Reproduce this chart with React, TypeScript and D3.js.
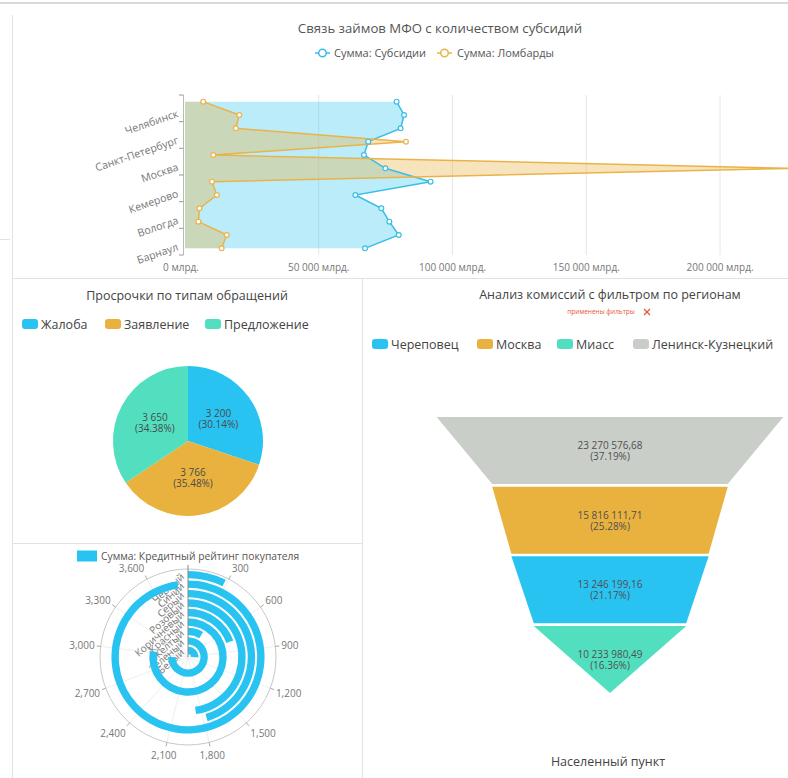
import React from "react";
import * as d3 from "d3";

const FONT = "'Open Sans', 'Noto Sans', sans-serif";

// ---------- Top chart: Связь займов МФО с количеством субсидий ----------
const cities = ["Челябинск", "Санкт-Петербург", "Москва", "Кемерово", "Вологда", "Барнаул"];
const pointKeys = cities.flatMap((c) => [c + " 1", c + " 2"]);
const subsidies = [79100, 81900, 80600, 68500, 66900, 74900, 91800, 63700, 73400, 76400, 79900, 67300];
const lombards = [6800, 20300, 19000, 82600, 10600, 226500, 10100, 11900, 5400, 5000, 15600, 13700];
const xTicks = [0, 50000, 100000, 150000, 200000];

// ---------- Pie ----------
const pieLabels = ["Жалоба", "Заявление", "Предложение"];
const pieValues = [3200, 3766, 3650];

// ---------- Funnel ----------
const funnelLabels = ["Ленинск-Кузнецкий", "Москва", "Череповец", "Миасс"];
const funnelValues = [23270576.68, 15816111.71, 13246199.16, 10233980.49];
const funnelLegendOrder = ["Череповец", "Москва", "Миасс", "Ленинск-Кузнецкий"];

// ---------- Polar ----------
const polarCats = ["Белый", "Зеленый", "Желтый", "Красный", "Коричневый", "Розовый", "Серый", "Синий", "Черный"];
const polarValues = [1000, 2925, 336, 3023, 758, 1863, 1766, 3813, 282];
const polarTicks = [300, 600, 900, 1200, 1500, 1800, 2100, 2400, 2700, 3000, 3300, 3600];

const C_BLUE = "#29c3f1";
const C_ORANGE = "#e9b23f";
const C_TEAL = "#52dfbf";
const C_GRAY = "#c9cec9";

const ru = d3.formatLocale({ decimal: ",", thousands: " ", grouping: [3], currency: ["", ""] });
const fmtInt = ru.format(",d");
const fmt2 = ru.format(",.2f");
const fmtEn = d3.format(",");

function pctLargestRemainder(vals: number[]): number[] {
  const tot = d3.sum(vals);
  const raw = vals.map((v) => (v / tot) * 10000);
  const fl = raw.map(Math.floor);
  const rest = 10000 - d3.sum(fl);
  const order = raw.map((r, i) => [r - Math.floor(r), i]).sort((a, b) => b[0] - a[0]);
  for (let k = 0; k < rest; k++) fl[order[k][1]] += 1;
  return fl.map((v) => v / 100);
}

function TopChart() {
  const x = d3.scaleLinear().domain([0, 50000]).range([185, 318.75]);
  const y = d3.scalePoint<string>().domain(pointKeys).range([95, 255]).padding(0.5);
  const band = d3.scaleBand<string>().domain(cities).range([95, 255]);
  const lineS = d3.line<number>().x((d) => x(d)).y((_, i) => y(pointKeys[i])!);
  const areaS = d3.area<number>().x0(x(0)).x1((d) => x(d)).y((_, i) => y(pointKeys[i])!);
  return (
    <g>
      <text x={440} y={33} textAnchor="middle" fontSize={13.2} fill="#555">Связь займов МФО с количеством субсидий</text>
      {/* legend */}
      <g fontSize={11} fill="#555">
        <line x1={315} x2={330} y1={53} y2={53} stroke="#3bbde6" strokeWidth={1.5} />
        <circle cx={322.5} cy={53} r={3.8} fill="#fff" stroke="#3bbde6" strokeWidth={1.5} />
        <text x={334} y={57}>Сумма: Субсидии</text>
        <line x1={437} x2={452} y1={53} y2={53} stroke="#eab34a" strokeWidth={1.5} />
        <circle cx={444.5} cy={53} r={3.8} fill="#fff" stroke="#eab34a" strokeWidth={1.5} />
        <text x={457} y={57}>Сумма: Ломбарды</text>
      </g>
      {/* grid */}
      {xTicks.slice(1).map((t) => (
        <line key={t} x1={x(t)} x2={x(t)} y1={95} y2={255} stroke="#e6e6e6" strokeWidth={1} />
      ))}
      <path d={areaS(subsidies) || ""} fill="#2ac3f1" fillOpacity={0.32} />
      <path d={areaS(lombards) || ""} fill="#eab340" fillOpacity={0.35} />
      <path d={lineS(subsidies) || ""} fill="none" stroke="#3bbde6" strokeWidth={1.5} />
      <path d={lineS(lombards) || ""} fill="none" stroke="#eab34a" strokeWidth={1.5} />
      {subsidies.map((v, i) => (
        <circle key={"s" + i} cx={x(v)} cy={y(pointKeys[i])} r={2.4} fill="#fff" stroke="#3bbde6" strokeWidth={1.2} />
      ))}
      {lombards.map((v, i) => (
        <circle key={"l" + i} cx={x(v)} cy={y(pointKeys[i])} r={2.4} fill="#fff" stroke="#eab34a" strokeWidth={1.2} />
      ))}
      {/* y axis */}
      <line x1={183.5} x2={183.5} y1={95} y2={255} stroke="#bbb" />
      {[...cities.map((c) => band(c)!), 255].map((yy, i) => (
        <line key={i} x1={179} x2={183.5} y1={yy} y2={yy} stroke="#999" />
      ))}
      {cities.map((c) => {
        const yy = band(c)! + band.bandwidth() - 5;
        return (
          <text key={c} x={179} y={yy} textAnchor="end" fontSize={10.6} fill="#777" transform={`rotate(-19 179 ${yy})`}>{c}</text>
        );
      })}
      {xTicks.map((t) => (
        <text key={t} x={t === 0 ? x(t) - 4 : x(t)} y={271} textAnchor="middle" fontSize={10} fill="#777">{fmtInt(t)} млрд.</text>
      ))}
    </g>
  );
}

function PieChart() {
  const cx = 188, cy = 441, R = 75;
  const colors = [C_BLUE, C_ORANGE, C_TEAL];
  const arcs = d3.pie<number>().sort(null)(pieValues);
  const arcG = d3.arc<d3.PieArcDatum<number>>().innerRadius(0).outerRadius(R);
  const pcts = pctLargestRemainder(pieValues);
  const legendX = [22, 105, 205];
  return (
    <g>
      <text x={187} y={300} textAnchor="middle" fontSize={12.5} fill="#444">Просрочки по типам обращений</text>
      {pieLabels.map((l, i) => (
        <g key={l}>
          <rect x={legendX[i]} y={319} width={16} height={10} rx={3} fill={colors[i]} />
          <text x={legendX[i] + 19} y={329} fontSize={12.5} fill="#444">{l}</text>
        </g>
      ))}
      <g transform={`translate(${cx},${cy})`}>
        {arcs.map((a, i) => (
          <path key={i} d={arcG(a) || ""} fill={colors[i]} />
        ))}
        {arcs.map((a, i) => {
          const [lx, ly] = arcG.centroid(a);
          return (
            <text key={"t" + i} x={lx} y={ly} textAnchor="middle" fontSize={10} fill="#4a4a4a">
              <tspan x={lx} dy={-2.5}>{fmtInt(a.data)}</tspan>
              <tspan x={lx} dy={11}>({pcts[i].toFixed(2)}%)</tspan>
            </text>
          );
        })}
      </g>
    </g>
  );
}

function FunnelChart() {
  const cx = 610;
  const colorMap: Record<string, string> = {
    "Череповец": C_BLUE,
    "Москва": C_ORANGE,
    "Миасс": C_TEAL,
    "Ленинск-Кузнецкий": C_GRAY,
  };
  const w = d3.scaleLinear().domain([0, d3.max(funnelValues)!]).range([0, 346.6]);
  const yb = d3.scaleBand<number>().domain(funnelValues.map((_, i) => i)).range([417, 693]).paddingInner(0.036);
  const pcts = pctLargestRemainder(funnelValues);
  const legendX = [372, 477, 557, 633];
  return (
    <g>
      <text x={610} y={299} textAnchor="middle" fontSize={12.5} fill="#444">Анализ комиссий с фильтром по регионам</text>
      <text x={601} y={314} textAnchor="middle" fontSize={6.5} fill="#e8553a">применены фильтры</text>
      <g stroke="#e8553a" strokeWidth={1.2}>
        <line x1={644} x2={650} y1={309} y2={315} />
        <line x1={650} x2={644} y1={309} y2={315} />
      </g>
      {funnelLegendOrder.map((l, i) => (
        <g key={l}>
          <rect x={legendX[i]} y={339} width={16} height={10} rx={3} fill={colorMap[l]} />
          <text x={legendX[i] + 19} y={349} fontSize={12.5} fill="#444">{l}</text>
        </g>
      ))}
      {funnelValues.map((v, i) => {
        const y0 = yb(i)!;
        const y1 = y0 + yb.bandwidth();
        const wt = w(v) / 2;
        const wb = w(i + 1 < funnelValues.length ? funnelValues[i + 1] : 0) / 2;
        const d = `M${cx - wt},${y0}L${cx + wt},${y0}L${cx + wb},${y1}L${cx - wb},${y1}Z`;
        const my = (y0 + y1) / 2;
        return (
          <g key={i}>
            <path d={d} fill={colorMap[funnelLabels[i]]} />
            <text x={cx} y={my} textAnchor="middle" fontSize={10} fill="#505050">
              <tspan x={cx} dy={-1.5}>{fmt2(v)}</tspan>
              <tspan x={cx} dy={11}>({pcts[i].toFixed(2)}%)</tspan>
            </text>
          </g>
        );
      })}
      <text x={608} y={766} textAnchor="middle" fontSize={12.5} fill="#444">Населенный пункт</text>
    </g>
  );
}

function PolarChart() {
  const cx = 188, cy = 657, R = 88;
  const ang = d3.scaleLinear().domain([0, 3900]).range([0, 2 * Math.PI]);
  const rad = d3.scaleBand<string>().domain(polarCats).range([3, 86]).paddingInner(0.22);
  const arcG = d3.arc<any>();
  return (
    <g>
      <rect x={77} y={550.5} width={20} height={11} fill={C_BLUE} />
      <text x={101} y={559.5} fontSize={10.3} fill="#555">Сумма: Кредитный рейтинг покупателя</text>
      {polarTicks.map((t) => {
        const a = ang(t);
        return (
          <line key={"g" + t} x1={cx} y1={cy} x2={cx + R * Math.sin(a)} y2={cy - R * Math.cos(a)} stroke="#efefef" />
        );
      })}
      <circle cx={cx} cy={cy} r={R} fill="none" stroke="#c8c8c8" />
      {polarTicks.map((t) => {
        const a = ang(t);
        const s = Math.sin(a), c = Math.cos(a);
        const lr = R + 13;
        const lx = cx + lr * s;
        const ly = cy - lr * c + 4;
        const anchor = Math.abs(s) < 0.3 ? "middle" : s > 0 ? "start" : "end";
        const ax = Math.abs(s) < 0.3 ? lx : cx + (R + 6) * s;
        return (
          <g key={"t" + t}>
            <line x1={cx + R * s} y1={cy - R * c} x2={cx + (R + 4) * s} y2={cy - (R + 4) * c} stroke="#aaa" />
            <text x={ax} y={ly} textAnchor={anchor} fontSize={10} fill="#777">{fmtEn(t)}</text>
          </g>
        );
      })}
      {polarCats.map((c) => {
        const r = rad(c)! + rad.bandwidth() / 2;
        const tx = cx - 3, ty = cy - r + 3;
        return (
          <text key={c} x={tx} y={ty} textAnchor="end" fontSize={10} fill="#777" transform={`rotate(-42 ${tx} ${ty})`}>{c}</text>
        );
      })}
      <g transform={`translate(${cx},${cy})`}>
        {polarValues.map((v, i) => (
          <path
            key={i}
            d={arcG({ innerRadius: rad(polarCats[i])!, outerRadius: rad(polarCats[i])! + rad.bandwidth(), startAngle: 0, endAngle: ang(v) }) || ""}
            fill={C_BLUE}
          />
        ))}
      </g>
      <line x1={cx} x2={cx} y1={cy} y2={cy - R - 4} stroke="#888" strokeWidth={1} />
    </g>
  );
}

export default function App() {
  return (
    <svg width={788} height={778} style={{ position: "absolute", left: 0, top: 0, fontFamily: FONT }}>
      <rect x={0} y={0} width={788} height={778} fill="#fff" />
      {/* panel borders */}
      <line x1={0} x2={788} y1={3} y2={3} stroke="#d9d9d9" strokeWidth={2} />
      <line x1={12.5} x2={12.5} y1={15} y2={778} stroke="#e2e2e2" />
      <line x1={0} x2={10} y1={239.5} y2={239.5} stroke="#e2e2e2" />
      <line x1={12} x2={788} y1={278.5} y2={278.5} stroke="#e2e2e2" />
      <line x1={362.5} x2={362.5} y1={278} y2={778} stroke="#e2e2e2" />
      <line x1={12} x2={362} y1={543.5} y2={543.5} stroke="#e2e2e2" />
      <TopChart />
      <PieChart />
      <FunnelChart />
      <PolarChart />
    </svg>
  );
}
